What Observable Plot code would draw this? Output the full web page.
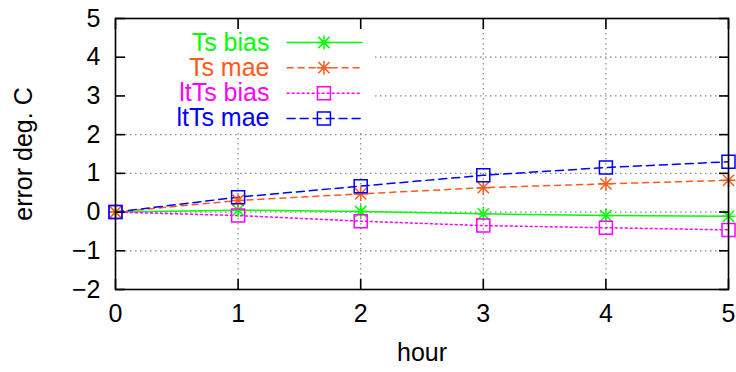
<!DOCTYPE html>
<html><head><meta charset="utf-8">
<script src="https://cdn.jsdelivr.net/npm/d3@7"></script>
<script src="https://cdn.jsdelivr.net/npm/@observablehq/plot@0.6"></script>
<style>body{margin:0;background:#fff} svg{display:block}</style>
</head><body><div id="chart"></div>
<script>
// ---- data ----
const hours = [0, 1, 2, 3, 4, 5];
const tsBias   = [0, 0.05, 0.015, -0.045, -0.09, -0.11];
const tsMae    = [0, 0.30, 0.47, 0.63, 0.73, 0.82];
const ltTsBias = [0, -0.09, -0.235, -0.35, -0.405, -0.46];
const ltTsMae  = [0, 0.385, 0.67, 0.95, 1.15, 1.30];
const seriesNames = ["Ts bias", "Ts mae", "ltTs bias", "ltTs mae"];
const xTicks = [0, 1, 2, 3, 4, 5];
const yTicks = [-2, -1, 0, 1, 2, 3, 4, 5];

// ---- styles ----
const seriesValues = [tsBias, tsMae, ltTsBias, ltTsMae];
const seriesColors = ["#00ff00", "#ff5a1a", "#ff00ff", "#0000ff"];
const seriesDash = [null, "6,5", "2,3", "8,5"];
const star = {draw(ctx, size) {
  const r = Math.sqrt(size / Math.PI), d = r * 0.8;
  ctx.moveTo(-r, 0); ctx.lineTo(r, 0); ctx.moveTo(0, -r); ctx.lineTo(0, r);
  ctx.moveTo(-d, -d); ctx.lineTo(d, d); ctx.moveTo(-d, d); ctx.lineTo(d, -d);
}};
const square = {draw(ctx, size) {
  const r = Math.sqrt(size / Math.PI);
  ctx.rect(-r, -r, 2 * r, 2 * r);
}};
const seriesSymbols = [star, star, square, square];
const seriesR = [7, 7, 6.5, 6.5];

// legend layout (in data units of the chart)
const legendBox = {x1: 0, x2: 2.1, y1: 2.1, y2: 5};
const legendRows = [4.38, 3.73, 3.07, 2.42];
const legendTextX = 1.256, legendLineX1 = 1.40, legendLineX2 = 2.01, legendMarkX = 1.70;

const FONT = "'Liberation Sans', Arial, Helvetica, sans-serif";
const FS = 25;
const fmt = d => (d < 0 ? "\u2212" + Math.abs(d) : String(d));

const marks = [
  Plot.gridX(xTicks, {stroke: "#888", strokeOpacity: 1, strokeWidth: 1.2, strokeDasharray: "1.5,3.5"}),
  Plot.gridY(yTicks, {stroke: "#888", strokeOpacity: 1, strokeWidth: 1.2, strokeDasharray: "1.5,3.5"}),
  Plot.rect([0], {x1: legendBox.x1, x2: legendBox.x2, y1: legendBox.y1, y2: legendBox.y2, fill: "white"})
];

seriesValues.forEach((vals, i) => {
  const data = hours.map((h, j) => ({hour: h, value: vals[j]}));
  marks.push(Plot.line(data, {x: "hour", y: "value", stroke: seriesColors[i], strokeWidth: 1.5, strokeDasharray: seriesDash[i]}));
});
seriesValues.forEach((vals, i) => {
  const data = hours.map((h, j) => ({hour: h, value: vals[j]}));
  marks.push(Plot.dot(data, {x: "hour", y: "value", symbol: seriesSymbols[i], r: seriesR[i], fill: "none", stroke: seriesColors[i], strokeWidth: 1.5}));
});

// legend
seriesNames.forEach((name, i) => {
  const y = legendRows[i];
  marks.push(Plot.text([name], {x: legendTextX, y, text: d => d, textAnchor: "end", lineAnchor: "middle", fill: seriesColors[i], fontSize: FS, fontFamily: FONT}));
  marks.push(Plot.line([{x: legendLineX1, y}, {x: legendLineX2, y}], {x: "x", y: "y", stroke: seriesColors[i], strokeWidth: 1.5, strokeDasharray: seriesDash[i]}));
  marks.push(Plot.dot([{x: legendMarkX, y}], {x: "x", y: "y", symbol: seriesSymbols[i], r: seriesR[i], fill: "none", stroke: seriesColors[i], strokeWidth: 1.5}));
});

marks.push(
  Plot.frame({stroke: "black", strokeWidth: 1.6}),
  Plot.axisX(xTicks, {anchor: "bottom", tickSize: -10, tickPadding: 25, label: null, fontSize: FS, strokeWidth: 1.6, tickFormat: fmt}),
  Plot.axisX(xTicks, {anchor: "top", tickSize: -10, tickFormat: () => "", label: null, strokeWidth: 1.6}),
  Plot.axisY(yTicks, {anchor: "left", tickSize: -10, tickPadding: 25, label: null, fontSize: FS, strokeWidth: 1.6, tickFormat: fmt}),
  Plot.axisY(yTicks, {anchor: "right", tickSize: -10, tickFormat: () => "", label: null, strokeWidth: 1.6}),
  Plot.text(["hour"], {frameAnchor: "bottom", dy: 63, text: d => d, textAnchor: "middle", lineAnchor: "middle", fontSize: FS, fontFamily: FONT}),
  Plot.text(["error deg. C"], {frameAnchor: "left", dx: -92, rotate: -90, text: d => d, textAnchor: "middle", lineAnchor: "middle", fontSize: FS, fontFamily: FONT})
);

const chart = Plot.plot({
  width: 736, height: 372,
  marginLeft: 115, marginRight: 8, marginTop: 18, marginBottom: 83,
  x: {domain: [0, 5]},
  y: {domain: [-2, 5]},
  style: {fontFamily: FONT, fontSize: FS + "px", color: "black", background: "white"},
  marks
});
document.getElementById("chart").appendChild(chart);
</script>
</body></html>
